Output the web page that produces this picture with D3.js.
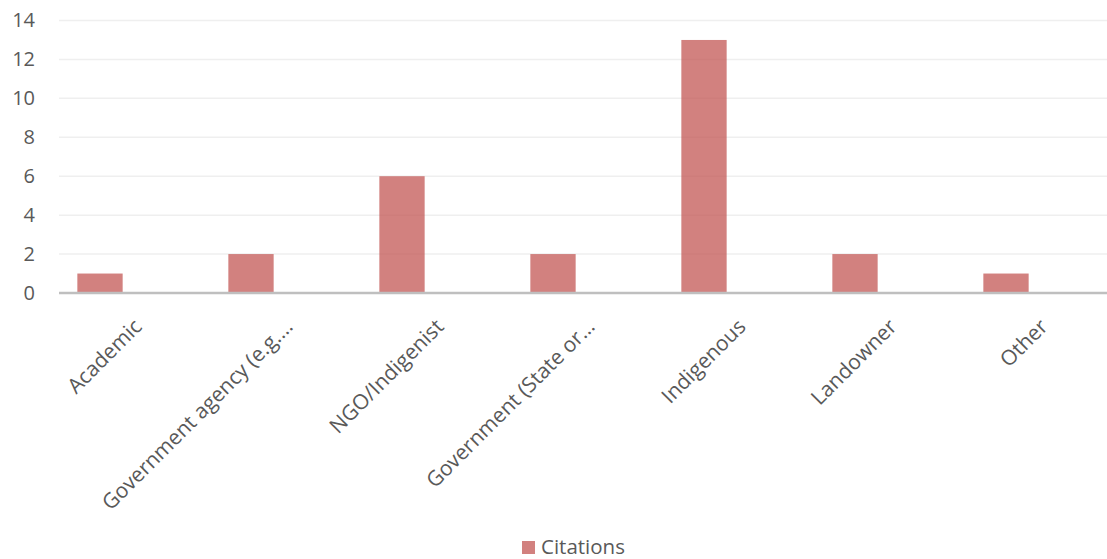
<!DOCTYPE html>
<html>
<head>
<meta charset="utf-8">
<script src="https://cdn.jsdelivr.net/npm/d3@7"></script>
<style>
  html, body { margin: 0; padding: 0; background: #fff; }
  svg { display: block; font-family: "Open Sans", sans-serif; }
</style>
</head>
<body>
<div id="chart"></div>
<script>
// Chart data
const categories = ["Academic", "Government agency (e.g.…", "NGO/Indigenist", "Government (State or…", "Indigenous", "Landowner", "Other"];
const citations = [1, 2, 6, 2, 13, 2, 1];
const yTicks = [0, 2, 4, 6, 8, 10, 12, 14];
const seriesName = "Citations";

const W = 1107, H = 559;
const plotLeft = 59, plotRight = 1107, plotTop = 20.5, plotBottom = 293;

const svg = d3.select("#chart").append("svg")
  .attr("width", W)
  .attr("height", H);

const x = d3.scaleBand()
  .domain(categories)
  .range([24.5, 1081.5])
  .paddingInner(0.7)
  .paddingOuter(0.35);

const y = d3.scaleLinear()
  .domain([0, 14])
  .range([plotBottom, plotTop]);

// gridlines
svg.append("g")
  .selectAll("line")
  .data(yTicks.filter(d => d > 0))
  .enter().append("line")
  .attr("x1", plotLeft).attr("x2", plotRight)
  .attr("y1", d => y(d)).attr("y2", d => y(d))
  .attr("stroke", "#efefef")
  .attr("stroke-width", 1.5);

// y axis labels
const yAxis = svg.append("g")
  .attr("transform", `translate(${plotLeft - 24},0)`)
  .call(d3.axisLeft(y).tickValues(yTicks).tickSize(0).tickPadding(0));
yAxis.select(".domain").remove();
yAxis.selectAll("text")
  .attr("fill", "#595959")
  .style("font-size", "20px")
  .style("font-family", "'Open Sans', sans-serif");

// bars
svg.append("g")
  .selectAll("rect")
  .data(citations)
  .enter().append("rect")
  .attr("x", (d, i) => x(categories[i]))
  .attr("width", x.bandwidth())
  .attr("y", d => y(d))
  .attr("height", d => y(0) - y(d))
  .attr("fill", "#c0504d")
  .attr("fill-opacity", 0.72);

// x axis line
svg.append("line")
  .attr("x1", plotLeft).attr("x2", plotRight)
  .attr("y1", y(0)).attr("y2", y(0))
  .attr("stroke", "#bfbfbf")
  .attr("stroke-width", 2.5);

// x labels, rotated
svg.append("g")
  .selectAll("text")
  .data(categories)
  .enter().append("text")
  .attr("transform", d => `translate(${x(d) + x.bandwidth() / 2 + 43},${y(0) + 35}) rotate(-45)`)
  .attr("text-anchor", "end")
  .attr("fill", "#595959")
  .style("font-size", "21px")
  .text(d => d);

// legend
const legend = svg.append("g").attr("transform", "translate(522,541)");
legend.append("rect")
  .attr("width", 13).attr("height", 13)
  .attr("fill", "#c0504d")
  .attr("fill-opacity", 0.72);
legend.append("text")
  .attr("x", 19).attr("y", 13)
  .attr("fill", "#595959")
  .style("font-size", "20.5px")
  .text(seriesName);
</script>
</body>
</html>
